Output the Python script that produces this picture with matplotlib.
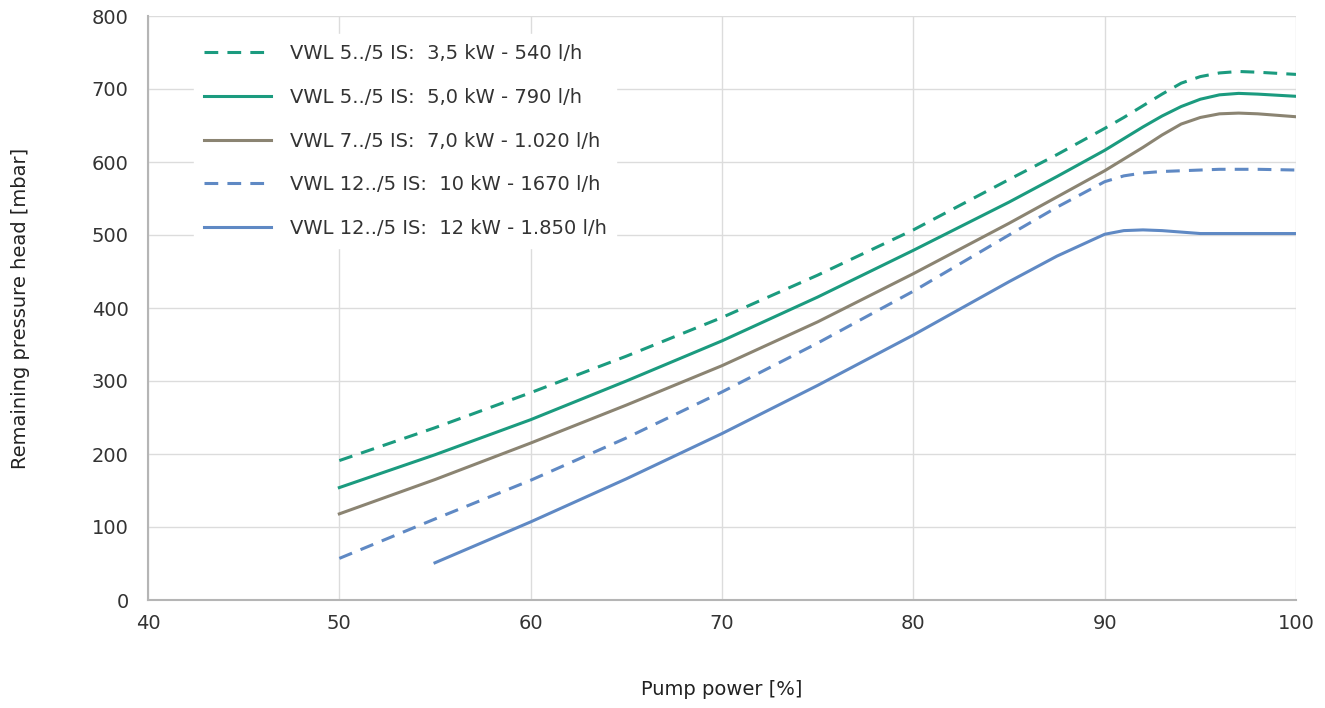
import matplotlib
matplotlib.use("Agg")
import matplotlib.pyplot as plt

plt.rcParams["font.family"] = ["DejaVu Sans"]

# pump power [%] and remaining pressure head [mbar]
x_a = [50, 55, 60, 65, 70, 75, 80, 85, 87.5, 90, 91, 92, 93, 94, 95, 96, 97, 98, 100]
vwl5_35 = [191, 236, 284, 334, 387, 445, 507, 576, 610, 646, 661, 677, 693, 708, 717, 722, 724, 723, 720]
vwl5_50 = [154, 199, 247, 300, 355, 415, 479, 545, 580, 616, 632, 648, 663, 676, 686, 692, 694, 693, 690]
vwl7_70 = [118, 165, 215, 267, 321, 381, 447, 516, 552, 588, 604, 620, 637, 652, 661, 666, 667, 666, 662]
vwl12_10 = [57, 111, 164, 222, 285, 352, 423, 500, 538, 573, 581, 585, 587, 588, 589, 590, 590, 590, 589]

x_b = [55, 60, 65, 70, 75, 80, 85, 87.5, 90, 91, 92, 93, 94, 95, 97, 100]
vwl12_12 = [51, 107, 166, 228, 294, 363, 436, 471, 501, 506, 507, 506, 504, 502, 502, 502]

labels = [
    "VWL 5../5 IS:  3,5 kW - 540 l/h",
    "VWL 5../5 IS:  5,0 kW - 790 l/h",
    "VWL 7../5 IS:  7,0 kW - 1.020 l/h",
    "VWL 12../5 IS:  10 kW - 1670 l/h",
    "VWL 12../5 IS:  12 kW - 1.850 l/h",
]

green = "#1b9b7f"
brown = "#8b8472"
blue = "#5f89c4"

fig = plt.figure(figsize=(13.25, 7.08), dpi=100)
ax = fig.add_axes([148 / 1325, 1 - 600 / 708, 1148 / 1325, 584 / 708])

lw = 2.2
ax.plot(x_a, vwl5_35, color=green, lw=lw, dashes=(4.5, 3), label=labels[0])
ax.plot(x_a, vwl5_50, color=green, lw=lw, label=labels[1])
ax.plot(x_a, vwl7_70, color=brown, lw=lw, label=labels[2])
ax.plot(x_a, vwl12_10, color=blue, lw=lw, dashes=(4.5, 3), label=labels[3])
ax.plot(x_b, vwl12_12, color=blue, lw=lw, label=labels[4])

ax.set_xlim(40, 100)
ax.set_ylim(0, 800)
ax.set_xticks(range(40, 101, 10))
ax.set_yticks(range(0, 801, 100))
ax.grid(True, color="#dcdcdc", lw=1)
ax.set_axisbelow(True)
for s in ["top", "right"]:
    ax.spines[s].set_visible(False)
for s in ["left", "bottom"]:
    ax.spines[s].set_color("#b5b5b5")
    ax.spines[s].set_linewidth(1.5)
ax.tick_params(axis="y", pad=14)
ax.tick_params(length=0, labelsize=14, colors="#333333")
ax.tick_params(axis="x", pad=10)
ax.set_xlabel("Pump power [%]", fontsize=14, color="#222222", labelpad=34)
ax.set_ylabel("Remaining pressure head [mbar]", fontsize=14, color="#222222", labelpad=44)

leg = ax.legend(loc="upper left", bbox_to_anchor=(0.032, 0.985), fontsize=14,
                frameon=True, framealpha=1, edgecolor="white", fancybox=False,
                handlelength=3.45, handletextpad=0.95, labelspacing=1.27,
                borderpad=0.5)
for t in leg.get_texts():
    t.set_color("#333333")

fig.savefig("out.png", dpi=100)
